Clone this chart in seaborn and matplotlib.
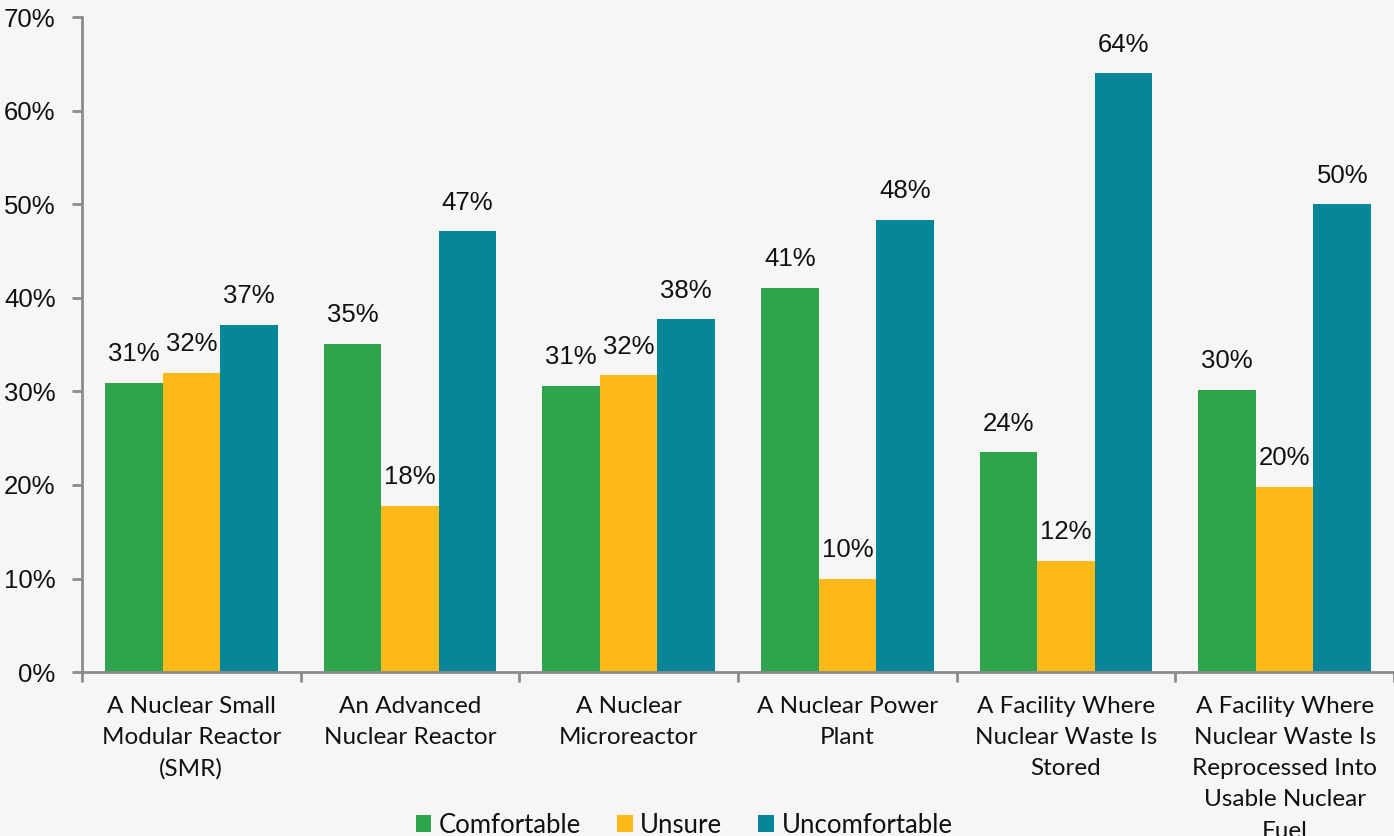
import matplotlib
matplotlib.use("Agg")
import matplotlib.pyplot as plt
import matplotlib.ticker as mticker
import seaborn as sns
import pandas as pd

categories = [
    "A Nuclear Small\nModular Reactor\n(SMR)",
    "An Advanced\nNuclear Reactor",
    "A Nuclear\nMicroreactor",
    "A Nuclear Power\nPlant",
    "A Facility Where\nNuclear Waste Is\nStored",
    "A Facility Where\nNuclear Waste Is\nReprocessed Into\nUsable Nuclear\nFuel",
]
comfortable = [30.9, 35.1, 30.6, 41.1, 23.5, 30.2]
unsure = [32.0, 17.8, 31.7, 10.0, 11.9, 19.8]
uncomfortable = [37.1, 47.1, 37.7, 48.3, 64.0, 50.0]
series_names = ["Comfortable", "Unsure", "Uncomfortable"]
colors = ["#2EA44C", "#FDB918", "#058799"]

bg = "#F7F6F4"
axis_gray = "#8C8C8C"
text_color = "#111111"

rows = []
for name, vals in zip(series_names, [comfortable, unsure, uncomfortable]):
    for cat, v in zip(categories, vals):
        rows.append({"Category": cat, "Response": name, "Share": v})
df = pd.DataFrame(rows)

sns.set_theme(style="white")
plt.rcParams["font.family"] = ["Liberation Sans", "DejaVu Sans"]

fig = plt.figure(figsize=(13.94, 8.36), dpi=100, facecolor=bg)
ax = fig.add_axes([0.0588, 0.196, 0.9412, 0.7836])
ax.set_facecolor(bg)

sns.barplot(
    data=df, x="Category", y="Share", hue="Response",
    hue_order=series_names, order=categories, palette=colors,
    width=0.79, saturation=1, ax=ax, errorbar=None, linewidth=0,
)

for container in ax.containers:
    labels = [f"{b.get_height():.0f}%" for b in container]
    ax.bar_label(container, labels=labels, padding=12, fontsize=18.5,
                 color=text_color, family="Liberation Sans")

ax.set_ylim(0, 70)
ax.set_xlim(-0.5, len(categories) - 0.5)
ax.yaxis.set_major_locator(mticker.MultipleLocator(10))
ax.yaxis.set_major_formatter(mticker.FuncFormatter(lambda v, p: f"{v:.0f}%"))
ax.set_xlabel("")
ax.set_ylabel("")

for side in ["top", "right"]:
    ax.spines[side].set_visible(False)
for side in ["left", "bottom"]:
    ax.spines[side].set_color(axis_gray)
    ax.spines[side].set_linewidth(2)

ax.tick_params(axis="y", which="major", length=7, width=2, color=axis_gray,
               pad=12, labelsize=18.5, labelcolor=text_color, left=True)
ax.set_xticks(range(len(categories)))
ax.set_xticklabels(categories, fontfamily="Lato", fontsize=17.5,
                   color=text_color)
for lbl in ax.get_xticklabels():
    lbl.set_linespacing(1.6)
ax.set_xticks([i - 0.5 for i in range(len(categories) + 1)], minor=True)
ax.tick_params(axis="x", which="major", length=0, pad=17)
ax.tick_params(axis="x", which="minor", length=7, width=2, color=axis_gray,
               bottom=True)
ax.grid(False)

handles, labels = ax.get_legend_handles_labels()
ax.legend(handles, labels, loc="lower center", bbox_to_anchor=(0.459, -0.288),
          bbox_transform=ax.transAxes, ncol=3, frameon=False,
          prop={"family": "Lato", "size": 18.5}, handlelength=0.6,
          handleheight=0.6, handletextpad=0.3, columnspacing=1.4,
          labelcolor=text_color)

fig.savefig("out.png", dpi=100, facecolor=bg)
